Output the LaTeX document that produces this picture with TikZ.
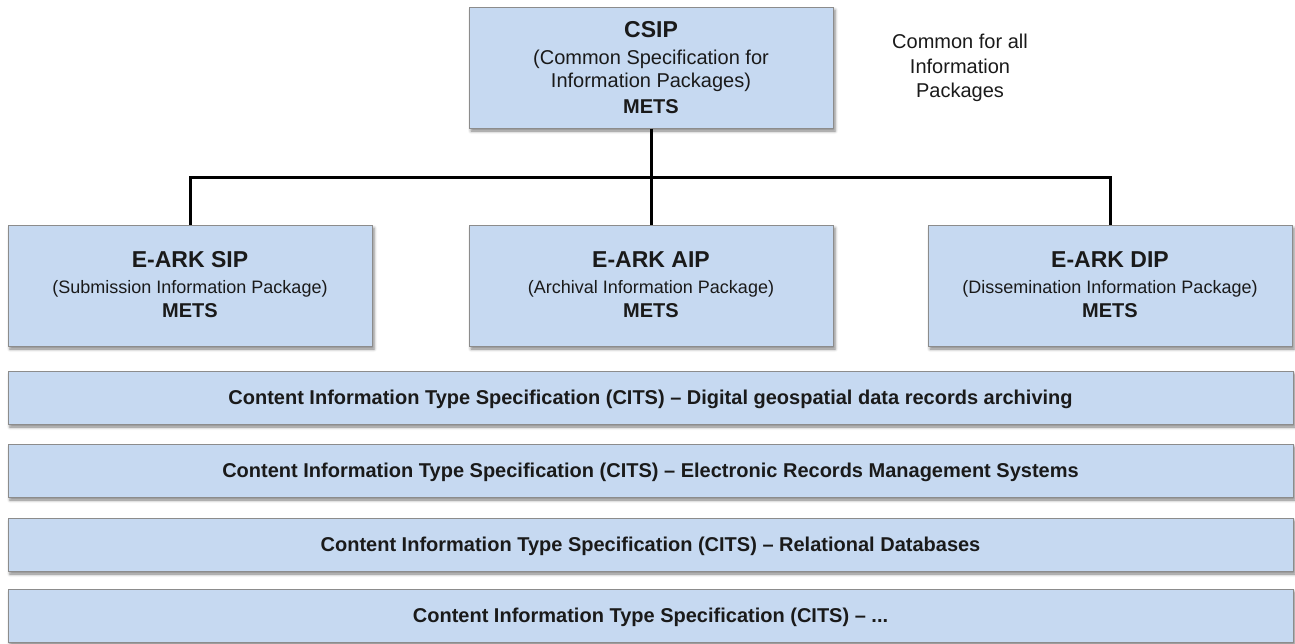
\documentclass[tikz,border=0pt]{standalone}
\usepackage{fontspec}
\setmainfont{Liberation Sans}
\usetikzlibrary{shadows.blur}
\definecolor{boxfill}{HTML}{C6D9F1}
\definecolor{boxline}{HTML}{8C8C8C}
\definecolor{txt}{HTML}{1A1A1A}
\begin{document}
\begin{tikzpicture}[x=1pt,y=-1pt,
  box/.style={draw=boxline, line width=1pt, fill=boxfill, inner sep=0pt, rectangle,
    blur shadow={shadow xshift=2pt, shadow yshift=-3pt, shadow blur radius=3pt, shadow opacity=50}},
  pkg/.style={box, minimum width=364pt, minimum height=121pt},
  bar/.style={box, minimum width=1285pt, minimum height=53pt},
  lbl/.style={anchor=base, inner sep=0pt, text=txt},
  ttl/.style={lbl, font=\fontsize{23}{23}\selectfont\bfseries},
  sub/.style={lbl, font=\fontsize{20}{20}\selectfont},
  subs/.style={lbl, font=\fontsize{18}{18}\selectfont},
  mets/.style={lbl, font=\fontsize{20}{20}\selectfont\bfseries},
  cits/.style={lbl, font=\fontsize{20}{20}\selectfont\bfseries},
  conn/.style={line width=3pt, draw=black}
]
\useasboundingbox (0,0) rectangle (1295,643);

% top box
\node[pkg] (csip) at (651,67.5) {};
\node[ttl]  (csipA) at (651,37) {CSIP};
\node[sub]  (csipB) at (651,64) {(Common Specification for};
\node[sub]  (csipC) at (651,87) {Information Packages)};
\node[mets] (csipD) at (651,113) {METS};

\node[lbl, font=\fontsize{20}{20}\selectfont] (note1) at (960,48) {Common for all};
\node[lbl, font=\fontsize{20}{20}\selectfont] (note2) at (960,73) {Information};
\node[lbl, font=\fontsize{20}{20}\selectfont] (note3) at (960,97) {Packages};

% package boxes
\node[pkg] (sip) at (190,285.5) {};
\node[ttl]  (sipA) at (190,267) {E-ARK SIP};
\node[subs] (sipB) at (190,293) {(Submission Information Package)};
\node[mets] (sipC) at (190,317) {METS};

\node[pkg] (aip) at (651,285.5) {};
\node[ttl]  (aipA) at (651,267) {E-ARK AIP};
\node[subs] (aipB) at (651,293) {(Archival Information Package)};
\node[mets] (aipC) at (651,317) {METS};

\node[pkg] (dip) at (1110,285.5) {};
\node[ttl]  (dipA) at (1110,267) {E-ARK DIP};
\node[subs] (dipB) at (1110,293) {(Dissemination Information Package)};
\node[mets] (dipC) at (1110,317) {METS};

% connectors
\coordinate (junc) at (651,177);
\draw[conn] (csip.south) -- (junc);
\draw[conn] (sip.north) |- (junc) -| (dip.north);
\draw[conn] (junc) -- (aip.north);

% CITS bars
\node[bar] (c1) at (650.5,397.5) {};
\node[cits] (c1t) at (650.5,404) {Content Information Type Specification (CITS) – Digital geospatial data records archiving};
\node[bar] (c2) at (650.5,470.5) {};
\node[cits] (c2t) at (650.5,477) {Content Information Type Specification (CITS) – Electronic Records Management Systems};
\node[bar] (c3) at (650.5,544.5) {};
\node[cits] (c3t) at (650.5,551) {Content Information Type Specification (CITS) – Relational Databases};
\node[bar] (c4) at (650.5,615.5) {};
\node[cits] (c4t) at (650.5,622) {Content Information Type Specification (CITS) – ...};
\end{tikzpicture}
\end{document}
